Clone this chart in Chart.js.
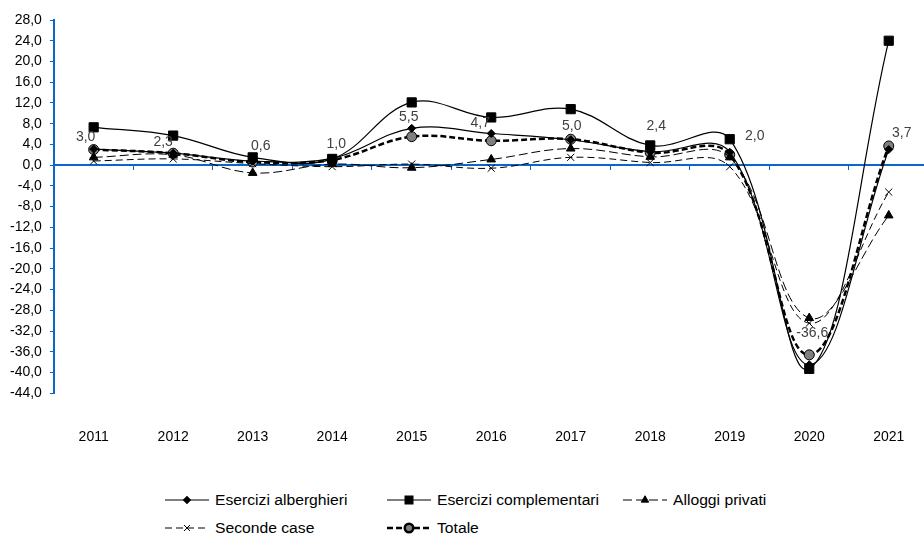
<!DOCTYPE html>
<html>
<head>
<meta charset="utf-8">
<script src="https://cdn.jsdelivr.net/npm/chart.js@4.4.1/dist/chart.umd.min.js"></script>
<style>
  html, body { margin: 0; padding: 0; background: #fff; overflow: hidden; }
  body { width: 924px; height: 538px; position: relative; font-family: "Liberation Sans", Arial, sans-serif; }
  /* il grafico va leggermente oltre il bordo destro, come nell'originale */
  .chart { position: absolute; left: 0; top: 0; width: 936px; height: 478px; }
  .legend-item { position: absolute; height: 16px; display: flex; align-items: center; font-size: 14px; color: #000; white-space: nowrap; }
  .legend-item canvas { margin-right: 6px; }
  .legend-item span { display: inline-block; transform: scaleX(1.12); transform-origin: left center; }
</style>
</head>
<body>
  <div class="chart">
    <canvas id="myChart"></canvas>
  </div>
  <div id="legend"></div>

<script>
  // dati (variazioni %)
  const years = ['2011', '2012', '2013', '2014', '2015', '2016', '2017', '2018', '2019', '2020', '2021'];
  const alberghieri = [3.1, 2.3, 0.8, 1.3, 7.1, 6.1, 4.9, 2.6, 2.5, -38.5, 3.0];
  const complementari = [7.3, 5.7, 1.5, 1.2, 12.1, 9.2, 10.8, 3.8, 5.0, -39.3, 24.0];
  const alloggi = [1.5, 2.0, -1.5, 0.2, -0.5, 1.1, 3.2, 1.6, 1.5, -29.5, -9.7];
  const secondeCase = [0.8, 1.2, 0.3, -0.3, 0.2, -0.6, 1.5, 0.5, -0.3, -30.5, -5.2];
  const totale = [3.0, 2.3, 0.6, 1.0, 5.5, 4.7, 5.0, 2.4, 2.0, -36.6, 3.7];

  const blue = '#0a66cc';
  const font = { family: '"Liberation Sans", Arial, sans-serif', size: 14 };

  const fmt = v => v.toFixed(1).replace('.', ',');

  const datasets = [
    { label: 'Esercizi alberghieri', data: alberghieri, borderColor: '#000', backgroundColor: '#000',
      borderWidth: 1.2, pointStyle: 'rectRot', pointRadius: 4, pointBorderWidth: 1 },
    { label: 'Esercizi complementari', data: complementari, borderColor: '#000', backgroundColor: '#000',
      borderWidth: 1.2, pointStyle: 'rect', pointRadius: 6.5, pointBorderWidth: 1 },
    { label: 'Alloggi privati', data: alloggi, borderColor: '#000', backgroundColor: '#000',
      borderWidth: 1, borderDash: [9, 4], pointStyle: 'triangle', pointRadius: 5, pointBorderWidth: 1 },
    { label: 'Seconde case', data: secondeCase, borderColor: '#000', backgroundColor: '#000',
      borderWidth: 1, borderDash: [7, 4], pointStyle: 'crossRot', pointRadius: 5, pointBorderWidth: 1 },
    { label: 'Totale', data: totale, borderColor: '#000', backgroundColor: '#808080',
      borderWidth: 2.5, borderDash: [6, 3], pointStyle: 'circle', pointRadius: 5, pointBorderWidth: 1,
      pointBorderColor: '#000' },
  ];
  datasets.forEach(d => { d.tension = 0.38; d.fill = false; d.pointBorderColor = d.pointBorderColor || '#000'; });

  // spostamento delle etichette del Totale rispetto al punto
  const labelShift = [[-8, -12], [-10, -11], [8, -16], [4, -16], [-3, -19], [-11, -18], [1, -13], [6, -27], [25, -19], [3, -22], [13, -13]];

  const totaleLabels = {
    id: 'totaleLabels',
    afterDatasetsDraw(chart) {
      const meta = chart.getDatasetMeta(4);
      const c = chart.ctx;
      c.save();
      c.font = '14px "Liberation Sans", Arial, sans-serif';
      c.fillStyle = '#404040';
      c.textAlign = 'center';
      c.textBaseline = 'middle';
      meta.data.forEach((pt, i) => {
        c.fillText(fmt(totale[i]), pt.x + labelShift[i][0], pt.y + labelShift[i][1]);
      });
      c.restore();
    }
  };

  const ctx = document.getElementById('myChart').getContext('2d');
  const myChart = new Chart(ctx, {
    type: 'line',
    data: { labels: years, datasets: datasets },
    options: {
      responsive: true,
      maintainAspectRatio: false,
      animation: false,
      layout: { padding: { top: 20, right: 0, bottom: 4, left: 2 } },
      plugins: { legend: { display: false }, tooltip: { enabled: false } },
      scales: {
        x: {
          type: 'category',
          position: { y: 0 },
          offset: true,
          grid: { offset: true, drawOnChartArea: false, tickLength: 4, color: blue, lineWidth: 1 },
          border: { color: blue, width: 2 },
          ticks: { display: false },
          afterFit: s => { s.height = 0; },
        },
        x2: {
          type: 'category',
          labels: years,
          position: 'bottom',
          offset: true,
          grid: { display: false },
          border: { display: false },
          ticks: { padding: 28, font: font, color: '#000', maxRotation: 0 },
        },
        y: {
          min: -44,
          max: 28,
          ticks: { stepSize: 4, autoSkip: false, font: font, color: '#000', padding: 8, callback: v => fmt(v) },
          grid: { drawOnChartArea: false, tickLength: 4, color: blue },
          border: { color: blue, width: 2 },
        },
      },
    },
    plugins: [totaleLabels],
  });

  // legenda: linea + simbolo come nel grafico
  const legendPos = [[165, 500], [387, 500], [623, 500], [165, 528], [387, 528]];
  const legendEl = document.getElementById('legend');
  datasets.forEach((d, i) => {
    const item = document.createElement('div');
    item.className = 'legend-item';
    item.style.left = legendPos[i][0] + 'px';
    item.style.top = (legendPos[i][1] - 8) + 'px';
    const ic = document.createElement('canvas');
    ic.width = 44; ic.height = 14;
    const g = ic.getContext('2d');
    g.strokeStyle = d.borderColor;
    g.lineWidth = d.borderWidth;
    g.setLineDash(d.borderDash || []);
    g.beginPath(); g.moveTo(0, 7); g.lineTo(44, 7); g.stroke();
    g.setLineDash([]);
    g.fillStyle = d.backgroundColor;
    g.strokeStyle = '#000';
    Chart.helpers.drawPoint(g, {
      pointStyle: d.pointStyle, radius: d.pointRadius * 0.85, rotation: 0, borderWidth: 1,
    }, 22, 7);
    item.appendChild(ic);
    const t = document.createElement('span');
    t.textContent = d.label;
    item.appendChild(t);
    legendEl.appendChild(item);
  });
</script>
</body>
</html>
